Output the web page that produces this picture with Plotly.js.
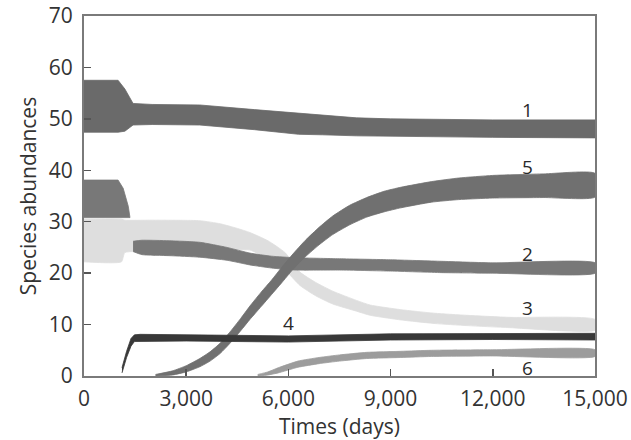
<!DOCTYPE html>
<html>
<head>
<meta charset="utf-8">
<script src="https://cdn.plot.ly/plotly-3.0.1.min.js"></script>
<style>html,body{margin:0;padding:0;background:#fff;}#chart{width:631px;height:440px;}</style>
</head>
<body>
<div id="chart"></div>
<script>
// ---- data ----
// Each species oscillates, drawn as a band between upper and lower envelope values.
const s1_t     = [0, 1000, 1200, 1440, 2000, 3400, 5000, 6300, 7000, 8000, 9000, 10000, 12000, 15000];
const s1_upper = [57.5, 57.5, 55.8, 53.0, 52.8, 52.7, 51.8, 51.1, 50.7, 50.2, 50.0, 49.9, 49.8, 49.8];
const s1_lower = [47.4, 47.4, 47.6, 48.8, 48.9, 48.8, 47.9, 47.0, 46.9, 46.7, 46.6, 46.5, 46.4, 46.3];

const s2a_t     = [0, 1000, 1150, 1300, 1350];
const s2a_upper = [38.1, 38.1, 36.5, 33.0, 30.8];
const s2a_lower = [30.8, 30.8, 30.8, 30.8, 30.8];
const s2b_t     = [1440, 1700, 2500, 3400, 4200, 4870, 5500, 6200, 7500, 9000, 10500, 12000, 15000];
const s2b_upper = [26.2, 26.4, 26.3, 26.0, 25.0, 23.9, 23.3, 23.0, 22.8, 22.6, 22.3, 22.0, 22.0];
const s2b_lower = [24.2, 23.6, 23.4, 23.1, 22.5, 21.6, 21.0, 20.6, 20.6, 20.4, 20.1, 20.0, 20.0];

const s3_t     = [0, 1100, 1200, 2000, 3400, 4000, 4500, 4870, 5400, 5900, 6340, 6800, 7300, 8000, 8400, 9300, 10300, 11240, 12500, 15000];
const s3_upper = [30.5, 30.5, 30.3, 30.3, 30.2, 29.6, 28.7, 27.9, 26.3, 24.0, 20.2, 18.2, 16.5, 14.7, 13.8, 12.9, 12.2, 11.8, 11.4, 11.0];
const s3_lower = [22.2, 22.2, 24.0, 24.2, 24.3, 24.4, 24.5, 24.5, 22.8, 20.6, 17.6, 15.6, 14.0, 12.6, 11.8, 10.9, 10.2, 9.8, 9.4, 8.9];

const s4_t     = [1115, 1250, 1380, 1480, 1650, 3000, 6000, 9000, 12000, 15000];
const s4_upper = [1.6, 4.8, 7.3, 8.0, 8.1, 8.0, 7.8, 8.2, 8.2, 8.3];
const s4_lower = [0.6, 3.6, 5.8, 6.7, 6.7, 6.8, 6.6, 7.0, 7.1, 7.0];

const s5_t     = [2100, 2600, 3000, 3400, 3700, 4000, 4290, 4600, 4870, 5200, 5500, 5800, 6130, 6500, 6900, 7300, 7800, 8300, 8800, 9300, 10200, 11000, 12000, 13500, 15000];
const s5_upper = [0.3, 1.0, 2.0, 3.4, 4.7, 6.4, 8.6, 11.2, 13.6, 16.3, 18.6, 21.1, 23.7, 26.4, 28.9, 31.1, 33.2, 34.7, 35.9, 36.7, 37.8, 38.5, 39.0, 39.3, 39.4];
const s5_lower = [0.0, 0.2, 0.8, 1.8, 2.9, 4.4, 6.4, 8.8, 11.0, 13.5, 15.8, 18.1, 20.7, 23.2, 25.5, 27.5, 29.4, 30.9, 31.9, 32.7, 33.8, 34.3, 34.6, 34.7, 34.8];

const s6_t     = [5100, 5400, 5700, 6280, 6900, 7500, 8300, 9300, 10200, 12000, 15000];
const s6_upper = [0.3, 0.8, 1.6, 2.9, 3.6, 4.1, 4.6, 4.8, 5.0, 5.1, 5.1];
const s6_lower = [0.0, 0.2, 0.6, 1.7, 2.4, 2.9, 3.4, 3.6, 3.8, 3.9, 3.8];

const seriesLabels = ['1', '2', '3', '4', '5', '6'];
const labelX = [13030, 13030, 13030, 5990, 13030, 13030];
const labelY = [51.7, 23.7, 13.2, 10.3, 40.6, 1.5];

const xTickVals = [0, 3000, 6000, 9000, 12000, 15000];
const xTickText = ['0', '3,000', '6,000', '9,000', '12,000', '15,000'];
const yTickVals = [0, 10, 20, 30, 40, 50, 60, 70];

// ---- build band polygons ----
function band(t, up, lo, color, smooth) {
  const xs = t.concat(t.slice().reverse());
  const ys = up.concat(lo.slice().reverse());
  return {
    x: xs, y: ys, type: 'scatter', mode: 'lines', fill: 'toself',
    fillcolor: color,
    line: smooth ? {color: color, width: 0.8, shape: 'spline', smoothing: 0.5}
                 : {color: color, width: 0.8},
    hoverinfo: 'skip', showlegend: false
  };
}

const traces = [
  band(s3_t, s3_upper, s3_lower, '#dedede', true),
  band(s6_t, s6_upper, s6_lower, '#9c9c9c', true),
  band(s2a_t, s2a_upper, s2a_lower, '#787878', false),
  band(s2b_t, s2b_upper, s2b_lower, '#787878', true),
  band(s1_t, s1_upper, s1_lower, '#6a6a6a', false),
  band(s5_t, s5_upper, s5_lower, '#707070', true),
  band(s4_t, s4_upper, s4_lower, '#383838', false)
];

const annotations = seriesLabels.map((s, i) => ({
  x: labelX[i], y: labelY[i], text: s, showarrow: false,
  font: {family: 'Open Sans, sans-serif', size: 19, color: '#2a2a2a'},
  xanchor: 'center', yanchor: 'middle'
}));

const axisCommon = {
  showgrid: false, zeroline: false, showline: true, mirror: true,
  linecolor: '#7a7a7a', linewidth: 2,
  ticks: 'inside', ticklen: 7, tickwidth: 1.5, tickcolor: '#555',
  tickfont: {family: 'Open Sans, sans-serif', size: 21, color: '#333'},
  fixedrange: true
};

const layout = {
  width: 631, height: 440,
  margin: {l: 84, r: 36, t: 16, b: 64},
  paper_bgcolor: '#fff', plot_bgcolor: '#fff',
  font: {family: 'Open Sans, sans-serif', color: '#333'},
  xaxis: Object.assign({}, axisCommon, {
    range: [0, 15000], tickmode: 'array', tickvals: xTickVals, ticktext: xTickText,
    ticklabelstandoff: 3,
    title: {text: 'Times (days)', font: {family: 'Open Sans, sans-serif', size: 21, color: '#333'}, standoff: 5}
  }),
  yaxis: Object.assign({}, axisCommon, {
    range: [0, 70], tickmode: 'array', tickvals: yTickVals,
    ticklabelstandoff: 5,
    title: {text: 'Species abundances', font: {family: 'Open Sans, sans-serif', size: 21, color: '#333'}, standoff: 6}
  }),
  annotations: annotations
};

Plotly.newPlot('chart', traces, layout, {displayModeBar: false, staticPlot: true});
</script>
</body>
</html>
